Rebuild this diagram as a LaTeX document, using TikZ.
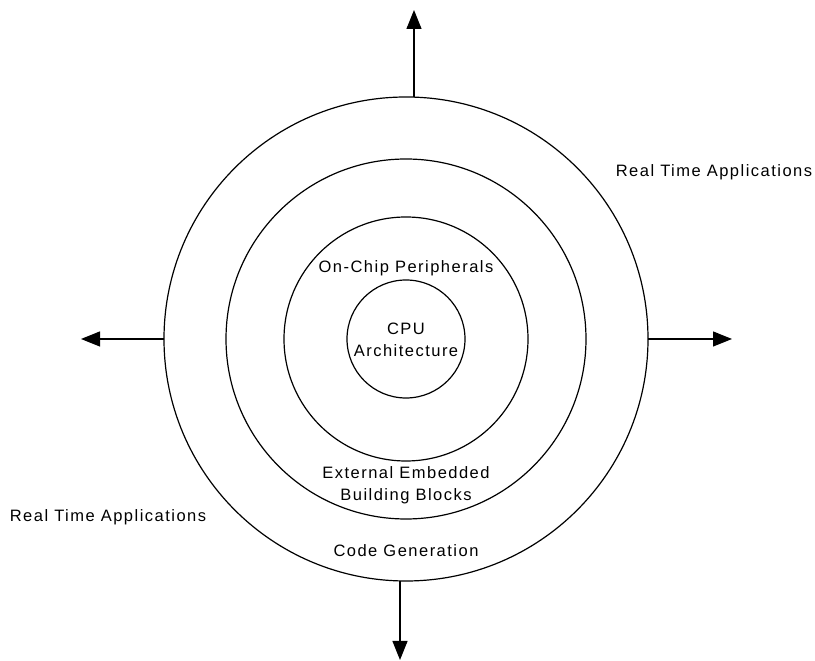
\documentclass[tikz,border=0pt]{standalone}
\usepackage{fontspec}
\newfontfamily\lblfont[LetterSpace=9]{Liberation Sans}
\usetikzlibrary{arrows.meta}
\begin{document}
\begin{tikzpicture}[x=1pt,y=1pt,
  ring/.style={circle,draw,line width=1.2pt,inner sep=0pt,outer sep=0pt},
  outarrow/.style={line width=1.2pt,-{Triangle[length=19pt,width=15pt]}},
  lbl/.style={font=\lblfont\fontsize{16.5}{22.5}\selectfont,inner sep=0pt,align=center}]
\useasboundingbox (0,0) rectangle (815,661);
\coordinate (c) at (406,322);
\node[ring,minimum size=484pt] (outer) at (c) {};
\node[ring,minimum size=360pt] (second) at (c) {};
\node[ring,minimum size=244pt] (third) at (c) {};
\node[ring,minimum size=118pt] (inner) at (c) {};
% arrows
\coordinate (tstart) at ([xshift=8pt]outer.north);
\coordinate (ttip) at (414,651);
\coordinate (bstart) at ([xshift=-6pt]outer.south);
\coordinate (btip) at (400,1);
\coordinate (ltip) at (81,322);
\coordinate (rtip) at (732,322);
\draw[outarrow] (tstart) -- (ttip);
\draw[outarrow] (bstart) -- (btip);
\draw[outarrow] (outer.west) -- (ltip);
\draw[outarrow] (outer.east) -- (rtip);
% labels
\node[lbl,anchor=base] (onchip) at (406,388) {On-Chip Peripherals};
\node[lbl] (cpu) at (406,321.4) {CPU\\Architecture};
\node[lbl] (ext) at (406,175.8) {External Embedded\\Building Blocks};
\node[lbl,anchor=base] (code) at (406,104.3) {Code Generation};
\node[lbl,anchor=base] (rtaR) at (714,484.3) {Real Time Applications};
\node[lbl,anchor=base] (rtaL) at (108,139) {Real Time Applications};
\end{tikzpicture}
\end{document}
